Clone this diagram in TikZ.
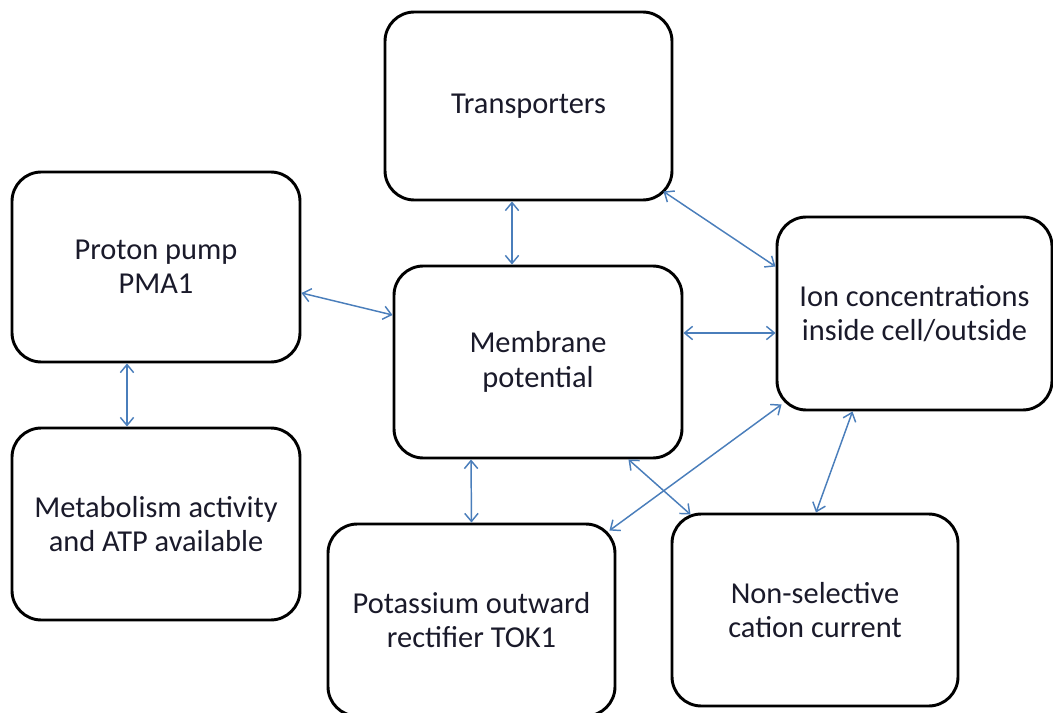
\documentclass[tikz,border=0pt]{standalone}
\usepackage{fontspec}
\setmainfont{Carlito}
\usetikzlibrary{arrows.meta,calc}
\definecolor{arrowblue}{HTML}{4A7EBB}
\definecolor{txt}{HTML}{1A1A2A}
\begin{document}
\begin{tikzpicture}[x=0.75pt,y=-0.75pt,
  box/.style={draw=black,line width=2.2pt,rounded corners=22pt,fill=white,
    minimum width=#1*0.75pt,align=center,text=txt,inner sep=0pt,
    font=\fontsize{22.8}{25.8}\selectfont},
  box/.default=288,
  link/.style={draw=arrowblue,line width=1.1pt,
    {Straight Barb[length=6pt,width=10pt]}-{Straight Barb[length=6pt,width=10pt]}}]
\useasboundingbox (0,0) rectangle (1053,713);
\node[box=287,minimum height=141pt] (tr) at (528.5,106) {Transporters};
\node[box=288,minimum height=142.5pt] (pp) at (156,267) {Proton pump\\PMA1};
\node[box=288,minimum height=144pt] (mp) at (538,362) {Membrane\\potential};
\node[box=275,minimum height=144.75pt] (ion) at (914.5,313.5) {Ion concentrations\\inside cell/outside};
\node[box=288,minimum height=144pt] (met) at (156,524) {Metabolism activity\\and ATP available};
\node[box=287,minimum height=144pt] (tok) at (471.5,620) {Potassium outward\\rectifier TOK1};
\node[box=286,minimum height=144pt] (ns) at (815,610) {Non-selective\\cation current};
\draw[link] ($(tr.south)+(-16.5,0)$) -- ($(mp.north)+(-26,0)$);
\draw[link] ($(tr.south east)+(-10,-10)$) -- ($(ion.west)+(0,-47)$);
\draw[link] ($(pp.east)+(0,26)$) -- ($(mp.west)+(0,-47)$);
\draw[link] ($(pp.south)+(-29,0)$) -- ($(met.north)+(-29,0)$);
\draw[link] ($(mp.east)+(0,-29)$) -- ($(ion.west)+(0,19.5)$);
\draw[link] ($(mp.south)+(-67,0)$) -- (tok.north);
\draw[link] ($(mp.south east)+(-55,0)$) -- ($(ns.north west)+(20,2)$);
\draw[link] ($(ion.south west)+(6,-7)$) -- ($(tok.north east)+(-7,8)$);
\draw[link] ($(ion.south)+(-62,0)$) -- ($(ns.north)+(1,0)$);
\end{tikzpicture}
\end{document}
